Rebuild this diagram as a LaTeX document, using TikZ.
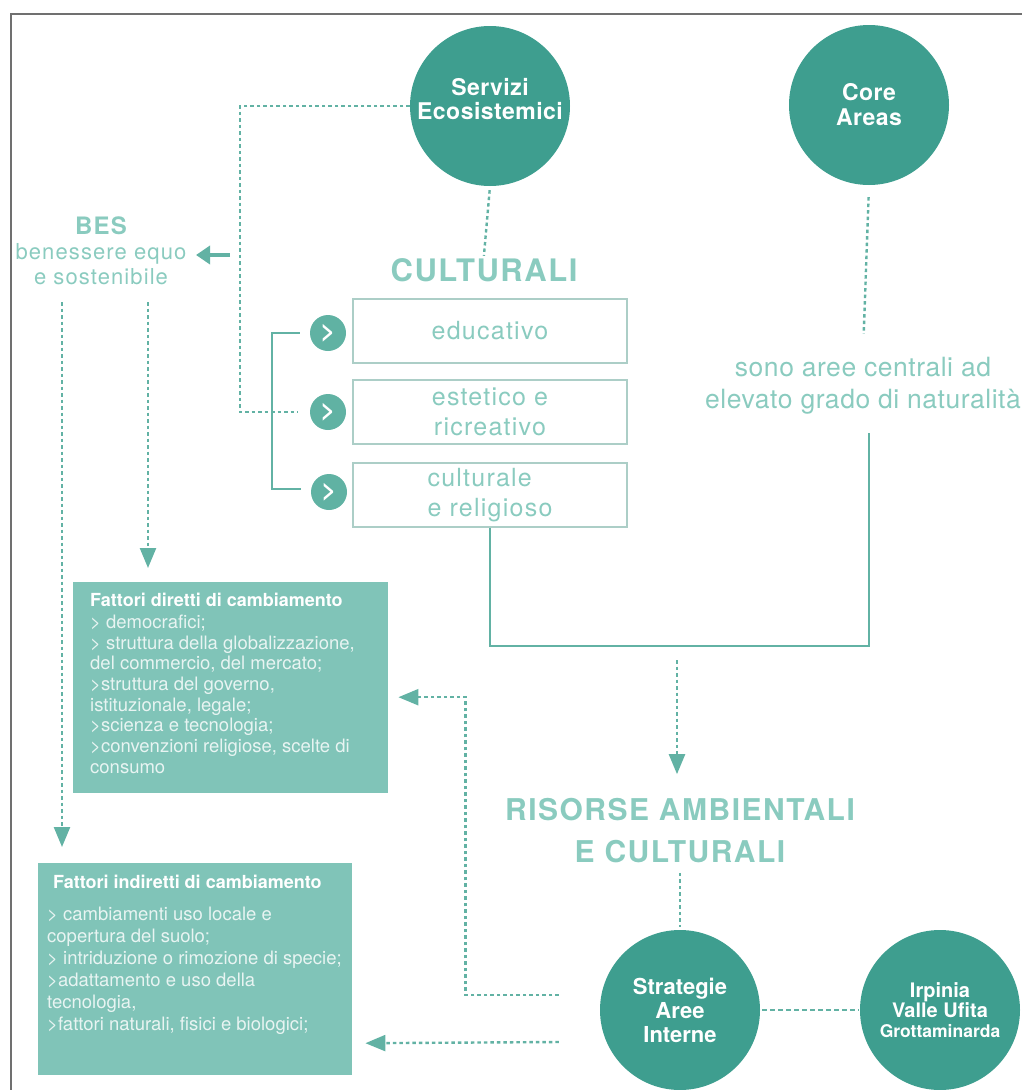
\documentclass[tikz,border=0pt]{standalone}
\usepackage{fontspec}
\setmainfont{TeX Gyre Heros}
\usetikzlibrary{calc, arrows.meta, positioning}

\definecolor{tealdark}{RGB}{62,158,143}
\definecolor{tealmid}{RGB}{96,178,163}
\definecolor{tealbox}{RGB}{128,196,184}
\definecolor{teallight}{RGB}{138,203,191}
\definecolor{tealline}{RGB}{98,178,164}
\definecolor{framegray}{RGB}{112,112,112}
\definecolor{itemgray}{RGB}{172,206,199}

\newcommand{\setfs}[2]{\fontsize{#1}{#2}\selectfont}
\newcommand{\spaced}[1]{\addfontfeatures{LetterSpace=#1}}

\tikzset{
  bigdot/.style={circle, fill=tealdark, minimum size=160pt, inner sep=0pt,
    text=white, align=center, font=\bfseries\setfs{23}{25}\spaced{2}},
  dottext/.style={text=white, align=center, inner sep=0pt,
    font=\bfseries\setfs{23}{24}\spaced{2}},
  bullet/.style={circle, fill=tealmid, minimum size=36pt, inner sep=0pt,
    text=white, font=\bfseries\setfs{25}{25}},
  itembox/.style={draw=itemgray, line width=1.4pt, minimum width=274pt,
    minimum height=64pt, inner sep=0pt, text=teallight, align=center,
    font=\setfs{25}{30}\spaced{5}},
  factbox/.style={fill=tealbox, inner sep=0pt, anchor=north west},
  facttext/.style={anchor=north west, inner sep=0pt, align=left,
    text=white!82!tealbox, font=\setfs{18.5}{20.7}},
  heading/.style={text=teallight, align=center,
    font=\bfseries\setfs{30}{42}\spaced{5}},
  dotline/.style={tealline, line width=2.4pt, dash pattern=on 3.5pt off 3pt},
  solidline/.style={tealline, line width=2.2pt},
  bigtip/.style={-{Triangle[length=20pt,width=16pt]}},
}

\begin{document}
\begin{tikzpicture}[x=1pt, y=-1pt]

    % 1. Canvas and the grey frame
    \useasboundingbox (0,0) rectangle (1022,1090);
    \draw[framegray, line width=1.5pt] (11,1090) -- (11,14) -- (1022,14);

    % 2. The four big circles
    \node[bigdot] (serv) at (490,106) {};
    \node[dottext] (servtxt) at (490,99) {Servizi\\Ecosistemici};
    \node[bigdot] (core) at (869,105) {Core\\Areas};
    \node[bigdot, font=\bfseries\setfs{22}{24}] (strat) at (680,1010) {Strategie\\Aree\\Interne};
    \node[bigdot, font=\bfseries\setfs{20}{20}] (irp) at (940,1010)
        {Irpinia\\Valle Ufita\\{\setfs{17.5}{20}Grottaminarda}};

    % 3. Headings and free texts
    \node[heading, font=\bfseries\setfs{31}{31}\spaced{5}] (cult) at (484,270) {CULTURALI};
    \node[heading] (risorse) at (680,831) {RISORSE AMBIENTALI\\E CULTURALI};
    \node[text=teallight, align=center, font=\setfs{26.5}{32}\spaced{2}] (coretxt) at (863,386)
        {sono aree centrali ad\\elevato grado di naturalità};
    \node[text=teallight, align=center, font=\setfs{22}{25}\spaced{5}] (bes) at (101,251)
        {{\bfseries\setfs{24}{25}BES}\\benessere equo\\e sostenibile};

    % 4. The three items with their bullets
    \node[itembox] (edu) at (490,331) {educativo};
    \node[itembox] (est) at (490,412) {estetico e\\ricreativo};
    \node[itembox, align=left] (rel) at (490,495) {culturale\\e religioso};
    \node[bullet] (b1) at (328,333) {>};
    \node[bullet] (b2) at (328,412) {>};
    \node[bullet] (b3) at (329,492) {>};
    \draw[solidline] ($(b1.west)+(-10,0)$) -| ($(b3.west)+(-39,-3)$) -- ($(b3.west)+(-10,-3)$);

    % 5. The two boxes of factors
    \node[factbox, minimum width=315pt, minimum height=211pt] (diretti) at (73,582) {};
    \node[facttext] (direttitxt) at (90,593)
        {{\color{white}\bfseries\setfs{18}{20.7}Fattori diretti di cambiamento}\\[1pt]
         > democrafici;\\
         > struttura della globalizzazione,\\
         del commercio, del mercato;\\
         >struttura del governo,\\
         istituzionale, legale;\\
         >scienza e tecnologia;\\
         >convenzioni religiose, scelte di\\
         consumo};
    \node[factbox, minimum width=314pt, minimum height=212pt] (indiretti) at (38,863) {};
    \node[facttext, font=\setfs{18.5}{22}] (indirettitxt) at (47,875)
        {\hspace*{6pt}{\color{white}\bfseries\setfs{18}{22}Fattori indiretti di cambiamento}\\[10pt]
         > cambiamenti uso locale e\\
         copertura del suolo;\\
         > intriduzione o rimozione di specie;\\
         >adattamento e uso della\\
         tecnologia,\\
         >fattori naturali, fisici e biologici;};

    % 6. Connectors of the upper half
    \coordinate (bend) at (240,412);
    \draw[dotline] (serv.west) -| (bend) -- ($(b2.west)+(-12,0)$);
    \draw[dotline, shorten <=4pt, shorten >=-1pt] (serv.south) -- (cult.north);
    \draw[dotline, shorten <=12pt, shorten >=20pt] (core.south) -- (coretxt.north);
    \coordinate (besarrow) at (230,255);
    \coordinate (besin) at (196,255);
    \draw[tealline, line width=4pt, -{Triangle[length=14pt,width=18pt]}] (besarrow) -- (besin);
    \coordinate (besL) at (62,302);
    \coordinate (besR) at (148,302);
    \draw[dotline, bigtip, shorten >=16pt] (besL) -- (besL |- indiretti.north);
    \draw[dotline, bigtip, shorten >=14pt] (besR) -- (besR |- diretti.north);

    % 7. The loop down to the resources
    \coordinate (loopR) at (869,646);
    \coordinate (loopM) at (677,646);
    \draw[solidline] (rel.south) |- (loopR) -- ++(0,-213);
    \draw[dotline, bigtip, shorten >=21pt] ([yshift=-14pt]loopM) -- (loopM |- risorse.north);
    \draw[dotline, shorten <=6pt, shorten >=3pt] (risorse.south) -- (strat.north);

    % 8. Connectors of the lower half
    \draw[dotline, dash pattern=on 5pt off 3pt, shorten <=2pt, shorten >=1pt] (strat.east) -- (irp.west);
    \draw[dotline, bigtip] ($(strat.west)+(-41,-15)$) -| ($(diretti.east)+(77,9.5)$) -- ($(diretti.east)+(10,9.5)$);
    \draw[dotline, bigtip] ($(strat.west)+(-41,32)$) -- ($(indiretti.east)+(13,74)$);

\end{tikzpicture}
\end{document}
